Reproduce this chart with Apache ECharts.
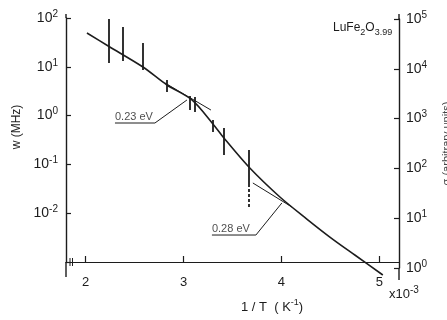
<!DOCTYPE html>
<html>
<head>
<meta charset="utf-8">
<script src="https://cdn.jsdelivr.net/npm/echarts@6/dist/echarts.min.js"></script>
<style>
  html, body { margin: 0; padding: 0; background: #fff; }
  #chart { width: 447px; height: 320px; }
</style>
</head>
<body>
<div id="chart"></div>
<script>
// fitted curve, w (MHz) against 1/T (x10^-3 K^-1)
const curveX = [2.014, 2.239, 2.586, 2.831, 3.086, 3.300, 3.412, 3.667, 3.984, 4.259, 4.494, 4.749, 5.035];
const curveW = [49.3, 26.1, 9.9, 4.24, 2.09, 0.673, 0.348, 0.0885, 0.0215, 0.0076, 0.00325, 0.00139, 0.000542];

// measured ranges (solid vertical bars)
const barX = [2.239, 2.382, 2.586, 2.831, 3.065, 3.116, 3.300, 3.412, 3.667];
const barLow = [11.97, 13.2, 8.6, 3.05, 1.30, 1.19, 0.46, 0.156, 0.0378];
const barHigh = [82.8, 65.4, 30.7, 5.37, 2.52, 2.40, 0.81, 0.557, 0.197];
// dashed extensions of two bars
const dashX = [2.239, 3.667];
const dashLow = [82.8, 0.0134];
const dashHigh = [160, 0.0378];

// activation-energy tangents
const tan23X = [2.810, 3.280];
const tan23W = [4.66, 1.30];
const tan28X = [3.708, 4.106];
const tan28W = [0.0416, 0.0134];

// annotation leaders (underline + pointer)
const lead23X = [2.300, 2.708, 3.035];
const lead23W = [0.705, 0.705, 2.09];
const lead28X = [3.290, 3.739, 4.004];
const lead28W = [0.00357, 0.00357, 0.0162];
const annLabels = ['0.23 eV', '0.28 eV'];

const xTicks = [2, 3, 4, 5];

const font = 'Liberation Sans, Arial, sans-serif';
const ink = '#1c1c1c';

// "10" with a raised exponent
const supRich = {
  b: { fontSize: 14, lineHeight: 18, verticalAlign: 'middle', color: ink, fontFamily: font },
  s: { fontSize: 10, lineHeight: 18, verticalAlign: 'top', color: ink, fontFamily: font }
};
// chemical formula with lowered indices
const subRich = {
  n: { fontSize: 12, lineHeight: 18, verticalAlign: 'middle', color: ink, fontFamily: font, fontWeight: 'normal' },
  s: { fontSize: 9, lineHeight: 18, verticalAlign: 'bottom', color: ink, fontFamily: font, fontWeight: 'normal' }
};

function powLabel(v) {
  const e = Math.round(Math.log10(v));
  return '{b|10}{s|' + e + '}';
}

const zip = (xs, ys) => xs.map((x, i) => [x, ys[i]]);

const chart = echarts.init(document.getElementById('chart'));

const option = {
  backgroundColor: '#fff',
  animation: false,
  title: {
    text: '{n|LuFe}{s|2}{n|O}{s|3.99}',
    left: 333, top: 19, padding: 0,
    textStyle: { fontWeight: 'normal', rich: subRich }
  },
  grid: [
    { left: 66, right: 48, top: 18, bottom: 58, outerBoundsMode: 'none' },
    { left: 66, right: 48, top: 19, bottom: 52, outerBoundsMode: 'none' }
  ],
  xAxis: [
    {
      gridIndex: 0, type: 'value', min: 1.8, max: 5.2,
      axisLine: { lineStyle: { color: ink, width: 1.2 } },
      axisTick: { inside: true, length: 6, customValues: xTicks, lineStyle: { color: ink, width: 1.2 } },
      axisLabel: { customValues: xTicks, margin: 14, fontSize: 13, color: ink, fontFamily: font },
      splitLine: { show: false }
    },
    { gridIndex: 1, type: 'value', min: 1.8, max: 5.2, show: false }
  ],
  yAxis: [
    {
      gridIndex: 0, type: 'log', logBase: 10, min: 1e-3, max: 100,
      axisLine: { show: true, lineStyle: { color: ink, width: 1.4 } },
      axisTick: { show: true, inside: true, length: 5, lineStyle: { color: ink, width: 1.2 } },
      axisLabel: {
        margin: 8, rich: supRich,
        formatter: v => (Math.round(Math.log10(v)) <= -3 ? '' : powLabel(v))
      },
      splitLine: { show: false },
      name: 'w (MHz)', nameLocation: 'middle', nameRotate: 90, nameGap: 43,
      nameTextStyle: { fontSize: 12, color: ink, fontFamily: font, padding: [0, 0, 0, 26] }
    },
    {
      gridIndex: 1, type: 'log', logBase: 10, min: 1, max: 1e5, position: 'right',
      axisLine: { show: true, lineStyle: { color: ink, width: 1.4 } },
      axisTick: { show: true, inside: true, length: 5, lineStyle: { color: ink, width: 1.2 } },
      axisLabel: { margin: 7, rich: supRich, formatter: powLabel },
      splitLine: { show: false },
      name: 'σ (arbitrary units)', nameLocation: 'middle', nameRotate: 90, nameGap: 42,
      nameTextStyle: { fontSize: 11, color: '#444', fontFamily: font }
    }
  ],
  series: [
    {
      type: 'line', xAxisIndex: 0, yAxisIndex: 0, data: zip(curveX, curveW),
      showSymbol: false, smooth: 0.3, clip: false, silent: true,
      lineStyle: { color: ink, width: 1.6 }
    },
    {
      type: 'lines', coordinateSystem: 'cartesian2d', xAxisIndex: 0, yAxisIndex: 0, silent: true,
      data: barX.map((x, i) => ({ coords: [[x, barLow[i]], [x, barHigh[i]]] })),
      lineStyle: { color: ink, width: 1.8, opacity: 1 }
    },
    {
      type: 'lines', coordinateSystem: 'cartesian2d', xAxisIndex: 0, yAxisIndex: 0, silent: true,
      data: dashX.map((x, i) => ({ coords: [[x, dashLow[i]], [x, dashHigh[i]]] })),
      lineStyle: { color: ink, width: 1.8, type: [3, 2], opacity: 1 }
    },
    {
      type: 'line', xAxisIndex: 0, yAxisIndex: 0, data: zip(tan23X, tan23W),
      showSymbol: false, silent: true, lineStyle: { color: ink, width: 1 }
    },
    {
      type: 'line', xAxisIndex: 0, yAxisIndex: 0, data: zip(tan28X, tan28W),
      showSymbol: false, silent: true, lineStyle: { color: ink, width: 1 }
    },
    {
      type: 'lines', coordinateSystem: 'cartesian2d', xAxisIndex: 0, yAxisIndex: 0, silent: true,
      polyline: true, data: [{ coords: zip(lead23X, lead23W) }],
      lineStyle: { color: ink, width: 1, opacity: 1 }
    },
    {
      type: 'lines', coordinateSystem: 'cartesian2d', xAxisIndex: 0, yAxisIndex: 0, silent: true,
      polyline: true, data: [{ coords: zip(lead28X, lead28W) }],
      symbol: ['none', 'arrow'], symbolSize: 6,
      lineStyle: { color: ink, width: 1, opacity: 1 }
    },
    {
      type: 'scatter', xAxisIndex: 0, yAxisIndex: 0, symbolSize: 0, silent: true,
      data: [
        { value: [lead23X[0], lead23W[0]], name: annLabels[0] },
        { value: [lead28X[0], lead28W[0]], name: annLabels[1] }
      ],
      label: {
        show: true, position: 'right', distance: 0, offset: [0, -6],
        formatter: p => p.name, fontSize: 11, color: ink, fontFamily: font
      }
    }
  ],
  graphic: [
    // axis line extensions and the x-axis break mark
    { type: 'line', shape: { x1: 66, y1: 14, x2: 66, y2: 18 }, style: { stroke: ink, lineWidth: 1.4 } },
    { type: 'line', shape: { x1: 66, y1: 262, x2: 66, y2: 277 }, style: { stroke: ink, lineWidth: 1.4 } },
    { type: 'line', shape: { x1: 399, y1: 14, x2: 399, y2: 19 }, style: { stroke: ink, lineWidth: 1.4 } },
    { type: 'line', shape: { x1: 399, y1: 268, x2: 399, y2: 280 }, style: { stroke: ink, lineWidth: 1.4 } },
    { type: 'line', shape: { x1: 70, y1: 258, x2: 70, y2: 266 }, style: { stroke: ink, lineWidth: 1 } },
    { type: 'line', shape: { x1: 72.5, y1: 258, x2: 72.5, y2: 266 }, style: { stroke: ink, lineWidth: 1 } },
    {
      type: 'text', left: 241, top: 298,
      style: {
        text: '{n|1 / T  ( K}{s|-1}{n|)}',
        rich: {
          n: { fontSize: 13, lineHeight: 18, verticalAlign: 'middle', fill: ink, fontFamily: font },
          s: { fontSize: 9, lineHeight: 18, verticalAlign: 'top', fill: ink, fontFamily: font }
        }
      }
    },
    {
      type: 'text', left: 389, top: 285,
      style: {
        text: '{n|x10}{s|-3}',
        rich: {
          n: { fontSize: 13, lineHeight: 18, verticalAlign: 'middle', fill: ink, fontFamily: font },
          s: { fontSize: 10, lineHeight: 18, verticalAlign: 'top', fill: ink, fontFamily: font }
        }
      }
    }
  ]
};

chart.setOption(option);
</script>
</body>
</html>
